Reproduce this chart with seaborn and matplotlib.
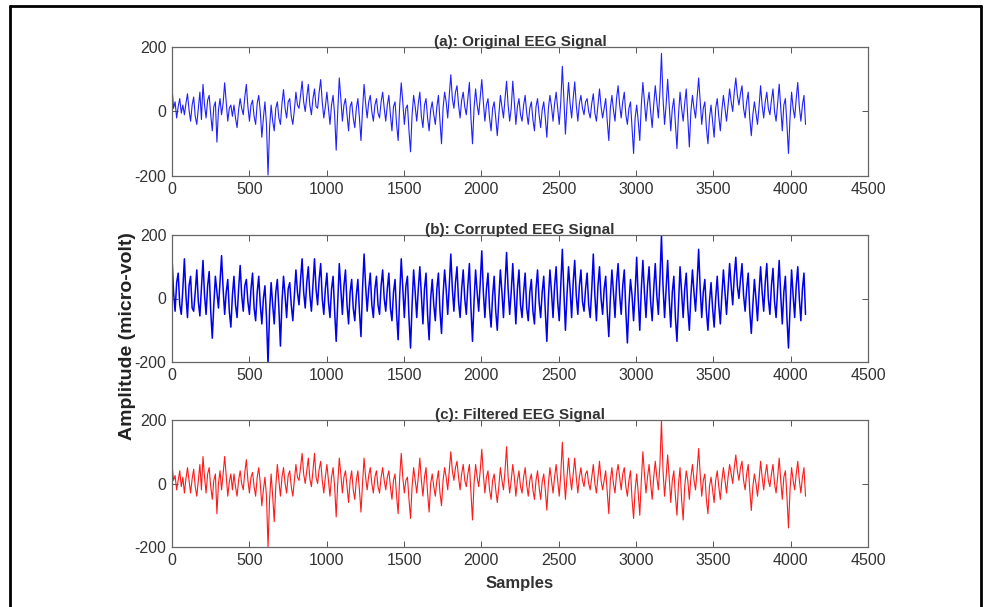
import numpy as np
import pandas as pd
import matplotlib
matplotlib.use("Agg")
import matplotlib.pyplot as plt
import seaborn as sns
from matplotlib.lines import Line2D

# ---------------- data (~10-sample steps) -------------
original = [
    75, 10, 30, -20, 15, 40, -5, 20, -10, 25,
    55, 5, -30, 20, 45, -15, -40, 10, 60, -25,
    84, 20, -20, 35, 50, -10, -60, 15, 30, -95,
    5, 40, -10, 25, 89, 30, -30, 10, 20, -15,
    20, -20, -50, 5, 40, 10, -10, 45, 84, 15,
    -30, 20, 35, -15, -40, 25, 50, 0, -80, -20,
    30, -40, -197, -50, 20, -30, -60, 10, 30, -20,
    -40, 25, 68, 10, -20, 30, 40, -15, -40, 5,
    60, 20, 10, 50, 94, 30, 0, 45, 84, 20,
    -10, 40, 70, 15, 10, 60, 99, 30, -20, 15,
    60, 10, -40, 20, 50, -10, -120, 0, 104, 40,
    -30, 20, 40, -10, -60, 15, 30, -20, -50, 10,
    40, -20, -90, 5, 84, 25, -20, 30, 50, 0,
    -30, 20, 40, -5, -20, 30, 60, 10, -30, 20,
    50, -10, -60, 15, 30, -40, -90, 20, 89, 30,
    -40, 10, 20, -60, -125, -10, 50, 15, -30, 25,
    60, -15, -50, 20, 40, -20, -60, 5, 30, -10,
    -40, 15, 50, -30, -100, 10, 60, 30, -20, 50,
    114, 40, 10, 60, 80, 20, -20, 35, 60, 15,
    -10, 40, 90, -20, -100, 10, 70, 20, -10, 45,
    99, 30, -30, 20, 40, -20, -60, 10, 30, -20,
    -75, -10, 50, 15, -20, 40, 94, 20, -30, 10,
    94, 30, -40, 15, 40, -10, -30, 20, 50, -5,
    -40, 10, 30, -25, -60, 15, 40, -10, -50, 5,
    30, -20, -80, 10, 50, 15, -30, 25, 60, 10,
    -40, 30, 140, 40, -70, 20, 90, 25, -20, 40,
    92, 20, -30, 25, 50, 10, -10, 30, 40, 0,
    -20, 25, 55, -5, -30, 20, 70, 15, -20, 10,
    40, -30, -90, 10, 50, 5, -30, 40, 80, 20,
    -20, 30, 60, -10, -40, 10, 30, -50, -130, -20,
    20, -30, -90, 20, 90, 30, -30, 25, 60, 0,
    -50, 20, 80, 30, -20, 60, 180, 40, -40, 20,
    100, 20, -60, 10, 40, -40, -115, -10, 60, 10,
    -30, 25, 70, -20, -110, 0, 50, 10, -20, 40,
    104, 30, -40, 10, 30, -50, -100, -20, 20, -30,
    -80, 10, 40, -15, -60, 5, 50, 10, -30, 20,
    70, 30, 0, 60, 104, 50, 20, 55, 80, 10,
    -20, 30, 60, -20, -75, -10, 30, -5, -40, 15,
    80, 20, -20, 30, 60, 10, -10, 35, 70, 0,
    -30, 25, 85, 10, -60, 20, 40, -40, -130, -20,
    60, 10, -20, 40, 90, 15, -30, 20, 50, -40,
]
corrupted = [
    130, 20, -40, 50, 80, -20, -50, 30, 125, 10,
    -60, 40, 70, -30, -40, 20, 90, -10, -55, 30,
    120, 10, -50, 40, 85, -40, -125, -20, 70, 20,
    -30, 50, 135, 30, -50, 20, 60, -40, -90, 10,
    70, -20, -60, 30, 104, 10, -40, 40, 60, -10,
    -50, 30, 80, -30, -70, 20, 70, -20, -80, 0,
    40, -60, -208, -40, 50, -20, -80, 20, 60, -30,
    -150, -10, 70, 10, -60, 30, 50, -20, -70, 10,
    90, 20, -20, 60, 125, 20, -30, 50, 100, 10,
    -40, 40, 125, 30, -20, 60, 110, 0, -50, 30,
    80, -10, -60, 30, 70, -40, -135, -10, 110, 30,
    -50, 40, 90, -20, -80, 20, 60, -30, -70, 10,
    60, -40, -120, 30, 140, 40, -40, 30, 80, -20,
    -60, 30, 70, -20, -50, 40, 90, 0, -40, 30,
    80, -30, -70, 20, 60, -50, -130, 10, 125, 30,
    -60, 40, 70, -60, -156, -20, 90, 20, -60, 30,
    100, 10, -80, 30, 80, -50, -130, 0, 60, -20,
    -70, 30, 80, -40, -110, 10, 90, 30, -50, 40,
    140, 30, -40, 50, 100, -10, -60, 30, 90, 0,
    -50, 40, 110, -30, -135, -10, 90, 20, -40, 50,
    150, 20, -60, 30, 80, -30, -90, 10, 70, -40,
    -100, 0, 90, 20, -60, 40, 145, 30, -50, 20,
    110, 10, -80, 30, 90, -20, -60, 20, 80, -30,
    -70, 20, 60, -40, -80, 30, 90, -10, -60, 20,
    70, -40, -135, 0, 90, 20, -60, 40, 100, -10,
    -70, 40, 155, 20, -100, 10, 100, 30, -60, 50,
    120, 10, -50, 40, 90, -10, -40, 30, 80, -20,
    -60, 30, 140, 10, -70, 40, 100, 0, -50, 30,
    70, -40, -120, 0, 90, 20, -60, 50, 110, 10,
    -50, 40, 90, -40, -140, -20, 60, 10, -70, 20,
    130, 0, -100, 30, 120, 20, -60, 40, 100, -10,
    -70, 30, 110, 10, -50, 60, 198, 40, -60, 30,
    120, 0, -90, 20, 70, -60, -135, -20, 100, 20,
    -60, 30, 80, -30, -100, 10, 90, 20, -40, 50,
    155, 30, -60, 20, 60, -40, -100, -10, 50, -30,
    -90, 0, 70, -20, -80, 10, 90, 20, -50, 30,
    110, 40, -20, 70, 130, 40, 0, 60, 110, 10,
    -40, 30, 80, -40, -110, -20, 60, 0, -70, 20,
    100, 20, -40, 50, 110, 0, -50, 40, 95, -10,
    -60, 30, 120, 10, -80, 20, 70, -60, -156, -30,
    90, 10, -60, 40, 100, 0, -70, 30, 80, -50,
]
filtered = [
    60, 10, 25, -20, 10, 40, -10, 20, -30, 15,
    50, 10, -30, 15, 45, -10, -40, 10, 60, -20,
    85, 20, -30, 30, 50, -10, -50, 10, 30, -95,
    0, 40, -20, 30, 85, 25, -40, 5, 30, -20,
    30, -10, -40, 10, 40, 0, -20, 35, 75, 10,
    -30, 20, 35, -10, -40, 20, 50, 0, -70, -20,
    20, -40, -200, -50, 30, -40, -120, -10, 60, 10,
    -40, 20, 50, 0, -30, 25, 40, -10, -40, 10,
    60, 20, 10, 50, 95, 30, 0, 40, 80, 15,
    -10, 40, 95, 20, 0, 45, 70, 10, -30, 20,
    60, 10, -40, 20, 50, -10, -105, 0, 80, 30,
    -30, 20, 40, -10, -60, 10, 40, -20, -50, 10,
    40, -20, -90, 0, 80, 20, -20, 25, 50, 0,
    -30, 20, 40, -10, -30, 20, 50, 10, -20, 20,
    40, -10, -50, 10, 30, -40, -95, 20, 95, 20,
    -30, 10, 20, -50, -110, -10, 50, 10, -30, 20,
    80, 10, -40, 20, 50, -30, -90, 0, 30, -10,
    -40, 10, 40, -30, -70, 10, 50, 20, -20, 40,
    100, 40, 10, 50, 70, 20, -20, 30, 60, 10,
    -10, 30, 60, -30, -115, 0, 60, 20, -10, 40,
    108, 30, -30, 20, 40, -20, -50, 10, 30, -20,
    -60, -10, 50, 10, -20, 40, 116, 20, -30, 10,
    60, 20, -40, 10, 40, -10, -30, 20, 50, -5,
    -40, 10, 30, -20, -50, 10, 40, -10, -50, 5,
    30, -20, -84, 0, 50, 10, -30, 20, 60, 10,
    -40, 30, 130, 30, -50, 20, 80, 20, -20, 30,
    80, 20, -30, 20, 50, 10, -10, 30, 40, 0,
    -20, 20, 60, 0, -30, 20, 70, 10, -20, 10,
    40, -30, -95, 10, 50, 0, -30, 30, 60, 20,
    -20, 30, 50, -10, -40, 10, 40, -50, -110, -20,
    30, -30, -100, 10, 100, 30, -30, 20, 60, 0,
    -50, 20, 70, 20, -20, 60, 198, 40, -40, 20,
    90, 20, -60, 10, 40, -40, -100, 0, 50, -50,
    -115, -10, 40, 10, -50, 20, 60, 10, -20, 40,
    110, 30, -40, 10, 30, -50, -95, -10, 20, -20,
    -60, 10, 40, -10, -50, 10, 50, 10, -30, 20,
    60, 30, 0, 50, 90, 40, 10, 50, 70, 10,
    -20, 30, 60, -20, -85, -10, 30, 0, -40, 10,
    70, 20, -20, 30, 60, 10, -10, 30, 60, 0,
    -30, 20, 80, 10, -50, 20, 40, -40, -140, -20,
    50, 10, -20, 30, 70, 10, -30, 20, 50, -40,
]
last_sample = 4096
titles = ["(a): Original EEG Signal", "(b): Corrupted EEG Signal", "(c): Filtered EEG Signal"]
x_ticks = [0, 500, 1000, 1500, 2000, 2500, 3000, 3500, 4000, 4500]
y_ticks = [-200, 0, 200]
ylabel = "Amplitude (micro-volt)"
xlabel = "Samples"

# ---------------- figure ----------------
sns.set_theme(style="white")
plt.rcParams["font.family"] = ["Liberation Sans Narrow", "Liberation Sans", "DejaVu Sans"]
plt.rcParams["axes.unicode_minus"] = False

fig = plt.figure(figsize=(9.91, 6.07), dpi=100)
left, width = 172 / 991, 696 / 991
rows = [(47, 176), (235, 362), (420, 547)]
series = [(original, "#2020ff", 0.8), (corrupted, "#0000ee", 1.1), (filtered, "#ff1a1a", 0.8)]

for (top, bot), (sig, col, lw), title in zip(rows, series, titles):
    ax = fig.add_axes([left, 1 - bot / 607, width, (bot - top) / 607])
    n = len(sig)
    df = pd.DataFrame({"sample": np.linspace(0, last_sample, n), "amp": sig})
    sns.lineplot(data=df, x="sample", y="amp", ax=ax, color=col, linewidth=lw,
                 estimator=None, legend=False)
    ax.set_xlim(0, 4500)
    ax.set_ylim(-200, 200)
    ax.set_xticks(x_ticks)
    ax.set_yticks(y_ticks)
    ax.set_xlabel("")
    ax.set_ylabel("")
    ax.tick_params(direction="in", length=4, width=0.7, color="#555555",
                   top=True, right=True, bottom=True, left=True,
                   labelsize=11.5, labelcolor="#333333", pad=4)
    for sp in ax.spines.values():
        sp.set_color("#666666")
        sp.set_linewidth(0.9)
    ax.set_title(title, fontsize=11, fontweight="bold", color="#333333", pad=1)
    ax.grid(False)
    last_ax = ax

last_ax.set_xlabel(xlabel, fontsize=12, fontweight="bold", color="#333333", labelpad=6)

fig.text(127 / 991, 1 - 336 / 607, ylabel, rotation=90, ha="center", va="center",
         fontsize=14, fontweight="bold", color="#222222",
         family=["Liberation Sans", "DejaVu Sans"])

# outer frame
for xs, ys in [((10 / 991, 981 / 991), (1 - 6 / 607, 1 - 6 / 607)),
               ((10 / 991, 10 / 991), (1 - 6 / 607, 0)),
               ((981 / 991, 981 / 991), (1 - 6 / 607, 0))]:
    fig.add_artist(Line2D(xs, ys, transform=fig.transFigure, color="black", linewidth=2))

fig.savefig("out.png", dpi=100)
